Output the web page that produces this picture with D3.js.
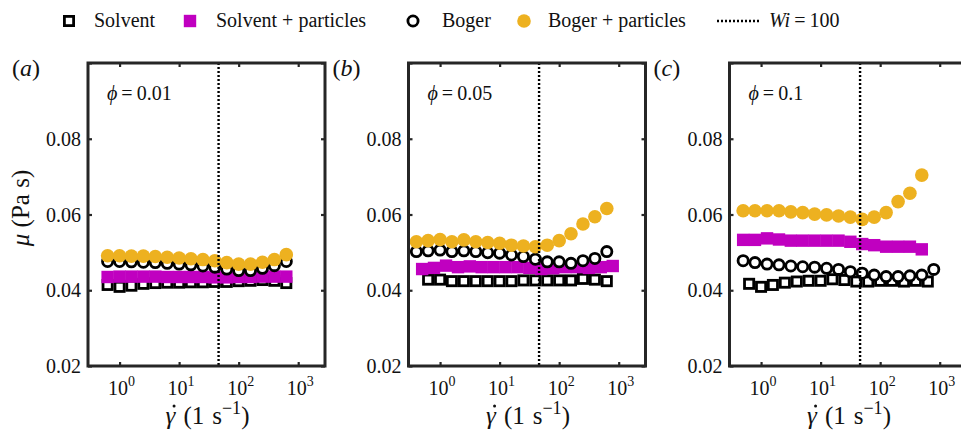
<!DOCTYPE html>
<html>
<head>
<meta charset="utf-8">
<script src="https://cdn.jsdelivr.net/npm/d3@7"></script>
<style>
  html, body { margin: 0; padding: 0; background: #fff; }
  svg { display: block; }
  text { font-family: "Liberation Serif", "Times New Roman", serif; fill: #111; }
</style>
</head>
<body>
<svg id="chart" width="961" height="431"></svg>
<script>
// ---------- data ----------
const rateA = [0.63, 1.0, 1.58, 2.51, 3.98, 6.31, 10, 15.8, 25.1, 39.8, 63.1, 100, 158, 251, 398, 631];
const rateB = [0.40, 0.63, 1.0, 1.58, 2.51, 3.98, 6.31, 10, 15.8, 25.1, 39.8, 63.1, 100, 158, 251, 398, 631];
const rateC = [0.50, 0.79, 1.26, 2.0, 3.16, 5.0, 7.94, 12.6, 20, 31.6, 50, 79.4, 126, 200, 316, 500, 794];
const rateD = [0.50, 0.79, 1.26, 2.0, 3.16, 5.0, 7.94, 12.6, 20, 31.6, 50, 79.4, 126, 200, 316, 500];

const solventA  = [0.0414, 0.0409, 0.0412, 0.0417, 0.0419, 0.0420, 0.0420, 0.0421, 0.0421, 0.0422, 0.0422, 0.0424, 0.0425, 0.0427, 0.0425, 0.0419];
const solventPA = [0.0435, 0.0436, 0.0436, 0.0436, 0.0436, 0.0435, 0.0435, 0.0435, 0.0435, 0.0434, 0.0434, 0.0435, 0.0435, 0.0436, 0.0436, 0.0436];
const bogerA    = [0.0476, 0.0476, 0.0475, 0.0474, 0.0473, 0.0471, 0.0469, 0.0467, 0.0464, 0.0461, 0.0456, 0.0452, 0.0452, 0.0458, 0.0465, 0.0476];
const bogerPA   = [0.0491, 0.0491, 0.0490, 0.0490, 0.0489, 0.0487, 0.0485, 0.0483, 0.0481, 0.0478, 0.0473, 0.0469, 0.0469, 0.0474, 0.0481, 0.0494];

const solventB  = [0.0428, 0.0428, 0.0424, 0.0424, 0.0424, 0.0424, 0.0424, 0.0424, 0.0426, 0.0426, 0.0426, 0.0426, 0.0426, 0.0430, 0.0428, 0.0424];
const solventPB = [0.0456, 0.0459, 0.0465, 0.0461, 0.0463, 0.0461, 0.0461, 0.0461, 0.0461, 0.0459, 0.0456, 0.0458, 0.0461, 0.0461, 0.0459, 0.0461, 0.0464];
const bogerB    = [0.0502, 0.0504, 0.0506, 0.0502, 0.0504, 0.0502, 0.0499, 0.0498, 0.0493, 0.0489, 0.0482, 0.0475, 0.0475, 0.0471, 0.0478, 0.0484, 0.0502];
const bogerPB   = [0.0528, 0.0531, 0.0534, 0.0528, 0.0533, 0.0528, 0.0526, 0.0524, 0.0519, 0.0517, 0.0515, 0.0519, 0.0531, 0.0549, 0.0575, 0.0594, 0.0616];

const solventC  = [0.0417, 0.0409, 0.0414, 0.0420, 0.0423, 0.0425, 0.0425, 0.0429, 0.0427, 0.0423, 0.0423, 0.0425, 0.0425, 0.0423, 0.0425, 0.0423];
const solventPC = [0.0533, 0.0533, 0.0537, 0.0534, 0.0531, 0.0531, 0.0531, 0.0531, 0.0531, 0.0528, 0.0522, 0.0519, 0.0515, 0.0515, 0.0515, 0.0508];
const bogerC    = [0.0478, 0.0473, 0.0469, 0.0467, 0.0464, 0.0462, 0.0461, 0.0458, 0.0455, 0.0449, 0.0445, 0.0440, 0.0436, 0.0436, 0.0438, 0.0440, 0.0455];
const bogerPC   = [0.0610, 0.0610, 0.0610, 0.0610, 0.0607, 0.0605, 0.0601, 0.0599, 0.0596, 0.0593, 0.0587, 0.0593, 0.0605, 0.0634, 0.0656, 0.0704];

const panelLetters = ["a", "b", "c"];
const phiLabels = ["0.01", "0.05", "0.1"];
const wiRate = 46;
const xTickValues = [1, 10, 100, 1000];
const xTickExp = ["0", "1", "2", "3"];
const yTickValues = [0.02, 0.04, 0.06, 0.08, 0.1];
const yTickLabels = ["0.02", "0.04", "0.06", "0.08", ""];
const seriesNames = ["Solvent", "Solvent + particles", "Boger", "Boger + particles"];

const panels = [
  { rates: [rateA, rateA, rateA, rateA], vals: [solventA, solventPA, bogerA, bogerPA] },
  { rates: [rateA, rateC, rateB, rateB], vals: [solventB, solventPB, bogerB, bogerPB] },
  { rates: [rateA, rateD, rateC, rateD], vals: [solventC, solventPC, bogerC, bogerPC] }
];

// ---------- styles ----------
const GOLD = "#EDB120", MAG = "#C000C0", FRAME = "#262626";
const panelLeft = [88, 408.5, 729.5];
const PW = 237, TOP = 63, BOTTOM = 366;

const svg = d3.select("#chart");
const y = d3.scaleLinear().domain([0.02, 0.1]).range([BOTTOM, TOP]);

function drawMarker(g, kind, cx, cy) {
  if (kind === 0) {
    g.append("rect").attr("x", cx - 4.6).attr("y", cy - 4.6).attr("width", 9.2).attr("height", 9.2)
      .attr("fill", "#fff").attr("stroke", "#000").attr("stroke-width", 2.8);
  } else if (kind === 1) {
    g.append("rect").attr("x", cx - 6.2).attr("y", cy - 6.2).attr("width", 12.4).attr("height", 12.4)
      .attr("fill", MAG);
  } else if (kind === 2) {
    g.append("circle").attr("cx", cx).attr("cy", cy).attr("r", 5.1)
      .attr("fill", "#fff").attr("stroke", "#000").attr("stroke-width", 2.8);
  } else {
    g.append("circle").attr("cx", cx).attr("cy", cy).attr("r", 6.8).attr("fill", GOLD);
  }
}

panels.forEach((p, i) => {
  const L = panelLeft[i];
  const x = d3.scaleLog().domain([0.295, 2818]).range([L, L + PW]);
  const g = svg.append("g");

  // data
  [0, 1, 2, 3].forEach(k => {
    const sg = g.append("g");
    p.vals[k].forEach((v, j) => drawMarker(sg, k, x(p.rates[k][j]), y(v)));
  });

  // Wi = 100 line
  g.append("line").attr("x1", x(wiRate)).attr("x2", x(wiRate)).attr("y1", TOP).attr("y2", BOTTOM)
    .attr("stroke", "#000").attr("stroke-width", 2.4).attr("stroke-dasharray", "2,2");

  // axes (ticks inside, all four sides)
  const ax = g.append("g").attr("transform", `translate(0,${BOTTOM})`)
    .call(d3.axisBottom(x).tickValues(xTickValues).tickSizeInner(-4).tickSizeOuter(0).tickFormat(""));
  const axT = g.append("g").attr("transform", `translate(0,${TOP})`)
    .call(d3.axisTop(x).tickValues(xTickValues).tickSizeInner(-4).tickSizeOuter(0).tickFormat(""));
  const ay = g.append("g").attr("transform", `translate(${L},0)`)
    .call(d3.axisLeft(y).tickValues(yTickValues).tickSizeInner(-4).tickSizeOuter(0).tickFormat(""));
  const ayR = g.append("g").attr("transform", `translate(${L + PW},0)`)
    .call(d3.axisRight(y).tickValues(yTickValues).tickSizeInner(-4).tickSizeOuter(0).tickFormat(""));
  [ax, axT, ay, ayR].forEach(a => {
    a.select(".domain").remove();
    a.selectAll(".tick line").attr("stroke", FRAME).attr("stroke-width", 2.2);
  });

  // frame
  g.append("rect").attr("x", L).attr("y", TOP).attr("width", PW).attr("height", BOTTOM - TOP)
    .attr("fill", "none").attr("stroke", FRAME).attr("stroke-width", 3);

  // x tick labels
  xTickValues.forEach((t, k) => {
    const tx = g.append("text").attr("x", x(t) + 2).attr("y", 395).attr("text-anchor", "middle")
      .attr("font-size", 20);
    tx.append("tspan").text("10");
    tx.append("tspan").attr("dy", -9).attr("font-size", 14).text(xTickExp[k]);
  });

  // y tick labels
  yTickValues.forEach((t, k) => {
    g.append("text").attr("x", L - 7).attr("y", y(t) + 7).attr("text-anchor", "end")
      .attr("font-size", 20).text(yTickLabels[k]);
  });

  // x axis label: gamma-dot (1 s^-1)
  const xl = g.append("text").attr("x", L + PW / 2 + 1).attr("y", 424).attr("text-anchor", "middle")
    .attr("font-size", 25);
  xl.append("tspan").attr("font-style", "italic").text("\u03B3");
  xl.append("tspan").attr("dx", 8).text("(1");
  xl.append("tspan").attr("dx", 8).text("s");
  xl.append("tspan").attr("dy", -10).attr("font-size", 18).text("\u22121");
  xl.append("tspan").attr("dy", 10).text(")");
  const bb = xl.node().getBBox();
  // overdot above the gamma
  g.append("circle").attr("cx", bb.x + 8.5).attr("cy", 406).attr("r", 1.5).attr("fill", "#111");

  // panel letter
  const pl = g.append("text").attr("x", L - 76).attr("y", 76).attr("font-size", 24);
  pl.append("tspan").text("(");
  pl.append("tspan").attr("font-style", "italic").text(panelLetters[i]);
  pl.append("tspan").text(")");

  // phi label
  const ph = g.append("text").attr("x", L + 19).attr("y", 100).attr("font-size", 20);
  ph.append("tspan").attr("font-style", "italic").text("\u03D5");
  ph.append("tspan").text("\u2009=\u2009" + phiLabels[i]);
});

// y axis label
const yl = svg.append("text").attr("transform", "translate(29,208) rotate(-90)")
  .attr("text-anchor", "middle").attr("font-size", 25);
yl.append("tspan").attr("font-style", "italic").text("\u03BC");
yl.append("tspan").text(" (Pa s)");

// legend
const leg = svg.append("g");
const legMarkX = [69, 190, 413, 524];
const legTextX = [94, 216, 442, 548];
seriesNames.forEach((name, k) => {
  drawMarker(leg, k, legMarkX[k], 21);
  leg.append("text").attr("x", legTextX[k]).attr("y", 27).attr("font-size", 20).text(name);
});
leg.append("line").attr("x1", 717).attr("x2", 760).attr("y1", 21).attr("y2", 21)
  .attr("stroke", "#000").attr("stroke-width", 2.4).attr("stroke-dasharray", "2,2");
const wl = leg.append("text").attr("x", 769).attr("y", 27).attr("font-size", 20);
wl.append("tspan").attr("font-style", "italic").text("Wi");
wl.append("tspan").text("\u2009=\u2009100");
</script>
</body>
</html>
